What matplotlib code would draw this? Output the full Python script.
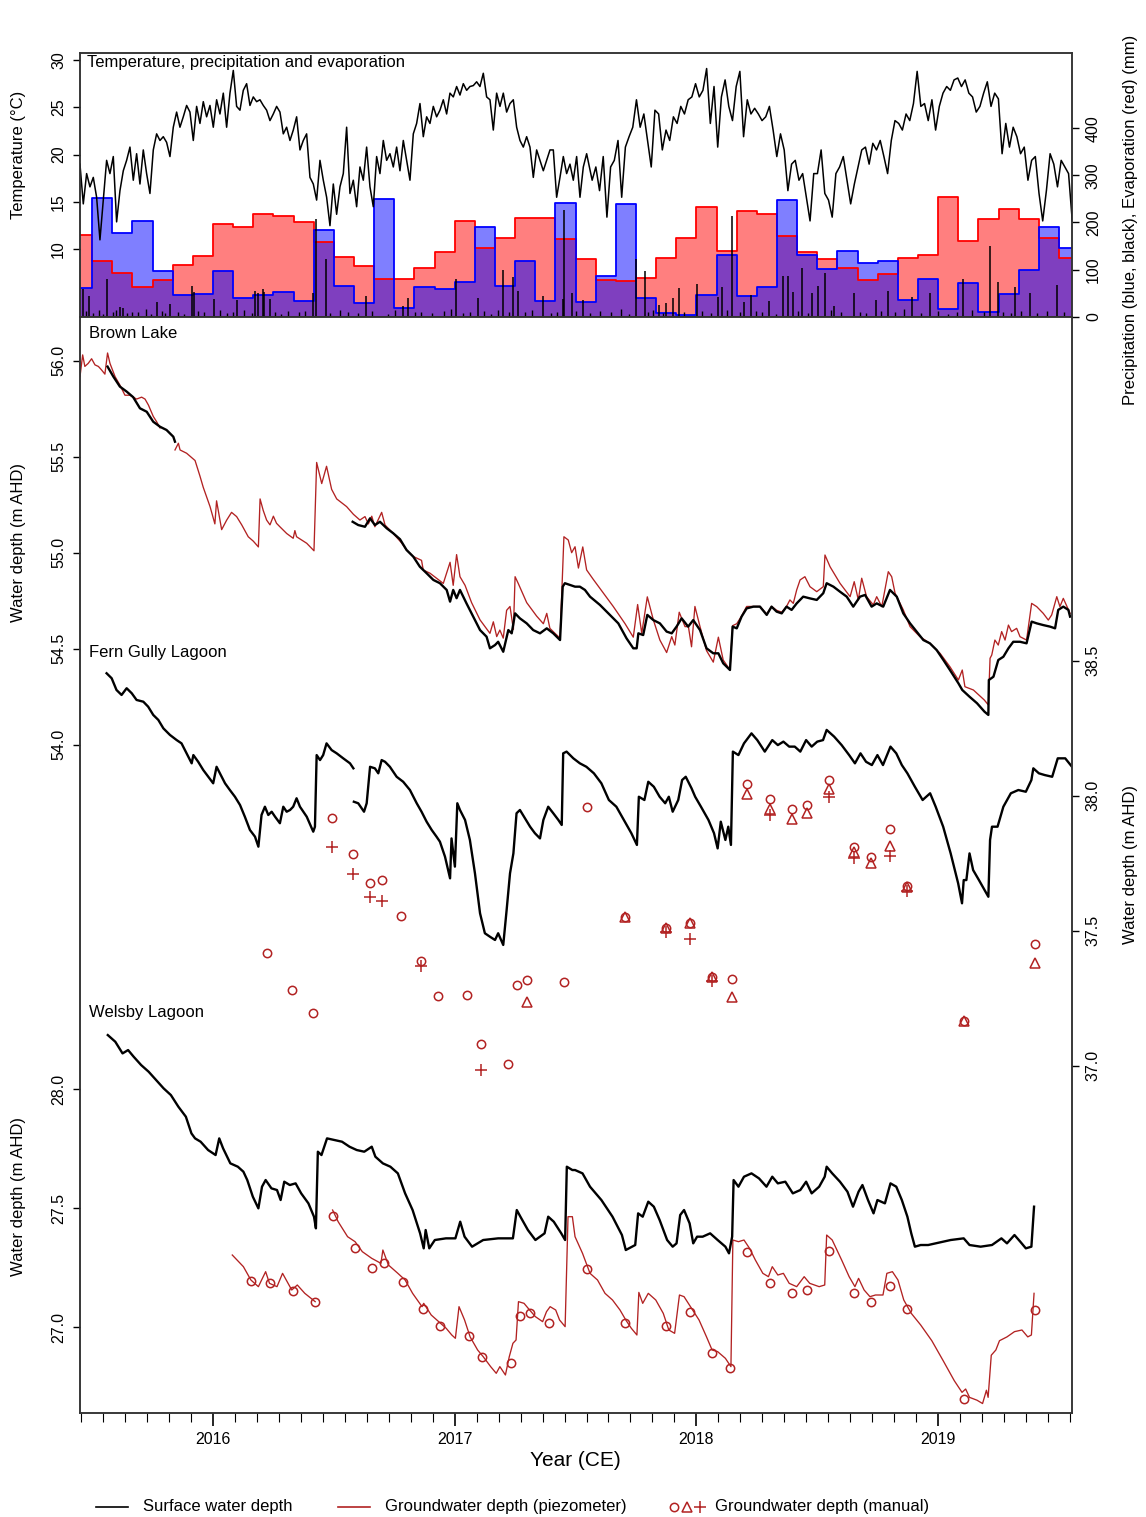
import numpy as np
import pandas as pd
import matplotlib
matplotlib.use('Agg')
import matplotlib.pyplot as plt
from matplotlib.ticker import MultipleLocator, FixedLocator, FormatStrFormatter
from matplotlib.lines import Line2D

plt.rcParams['font.family'] = ['Liberation Sans', 'DejaVu Sans']

RED = '#B22222'
XMIN, XMAX = 2015.45, 2019.554

# ---------------- climate data ----------------
# monthly totals (mm), June 2015 .. July 2019
months = pd.period_range('2015-06', '2019-07', freq='M')
evap_mm = [173, 118, 93, 64, 78, 110, 129,
           196, 191, 217, 214, 200, 158, 126, 108, 80, 81, 103, 138,
           204, 145, 166, 210, 210, 164, 122, 78, 76, 83, 125, 168,
           232, 140, 224, 218, 171, 138, 122, 104, 78, 90, 124, 131,
           253, 161, 207, 228, 207, 166, 124]
precip_mm = [60, 251, 178, 203, 97, 46, 48,
             96, 40, 46, 53, 34, 184, 65, 30, 249, 18, 62, 58,
             74, 191, 66, 119, 33, 241, 32, 87, 239, 40, 7, 4,
             47, 132, 44, 64, 248, 130, 101, 139, 115, 118, 35, 80,
             16, 71, 9, 48, 99, 191, 145]

# daily rainfall events (mm)
rain_year = [2015.464, 2015.489, 2015.560, 2015.615, 2015.629, 2015.770, 2015.822, 2015.912,
             2015.921, 2016.004, 2016.101, 2016.174, 2016.188, 2016.206, 2016.212, 2016.236,
             2016.412, 2016.426, 2016.468, 2016.633, 2016.787, 2016.805, 2017.005, 2017.098,
             2017.201, 2017.243, 2017.263, 2017.367, 2017.447, 2017.452, 2017.484, 2017.531,
             2017.752, 2017.787, 2017.844, 2017.874, 2017.905, 2017.928, 2018.004, 2018.088,
             2018.104, 2018.149, 2018.195, 2018.226, 2018.302, 2018.360, 2018.378, 2018.398,
             2018.435, 2018.478, 2018.504, 2018.531, 2018.569, 2018.653, 2018.745, 2018.791,
             2018.890, 2018.967, 2019.104, 2019.216, 2019.249, 2019.318, 2019.379, 2019.494]
rain_mm = [58, 44, 79, 21, 18, 32, 28, 65,
           53, 37, 35, 55, 50, 58, 53, 37,
           50, 207, 122, 44, 23, 39, 79, 40,
           100, 85, 55, 44, 37, 226, 50, 35,
           122, 97, 25, 30, 40, 60, 69, 42,
           64, 214, 32, 47, 34, 86, 86, 53,
           103, 50, 65, 93, 23, 50, 35, 55,
           42, 50, 81, 151, 73, 64, 50, 67]
small_rain_year = [2015.475, 2015.505, 2015.53, 2015.545, 2015.585, 2015.60, 2015.645, 2015.665, 2015.69,
                   2015.725, 2015.745, 2015.79, 2015.80, 2015.855, 2015.88, 2015.94, 2015.965,
                   2016.03, 2016.06, 2016.085, 2016.13, 2016.16, 2016.255, 2016.28, 2016.31, 2016.355,
                   2016.38, 2016.485, 2016.525, 2016.56, 2016.60, 2016.66, 2016.725, 2016.755, 2016.835,
                   2016.86, 2016.905, 2016.955, 2016.985,
                   2017.035, 2017.065, 2017.12, 2017.15, 2017.18, 2017.225, 2017.29, 2017.32, 2017.40,
                   2017.425, 2017.50, 2017.56, 2017.60, 2017.645, 2017.69, 2017.72, 2017.80, 2017.82,
                   2017.86, 2017.95,
                   2018.025, 2018.06, 2018.125, 2018.18, 2018.245, 2018.27, 2018.33, 2018.42, 2018.46,
                   2018.555, 2018.60, 2018.675, 2018.70, 2018.765, 2018.82, 2018.86, 2018.93,
                   2019.00, 2019.04, 2019.08, 2019.14, 2019.19, 2019.27, 2019.30, 2019.345, 2019.41,
                   2019.45, 2019.52]
small_rain_mm = [12, 8, 15, 6, 10, 14, 7, 11, 9, 16, 5, 13, 8, 10, 6, 12, 9,
                 14, 7, 11, 15, 8, 10, 6, 13, 9, 12, 7, 15, 10, 8, 12, 6, 14, 9, 11, 7, 13, 16,
                 8, 10, 12, 6, 14, 9, 11, 15, 7, 10, 13, 8, 12, 9, 16, 6, 11, 14, 8, 10,
                 12, 7, 15, 9, 13, 10, 6, 12, 8, 14, 11, 9, 7, 13, 10, 16, 8,
                 12, 6, 11, 14, 9, 10, 7, 13, 8, 12, 10]

# daily temperature (deg C), read roughly every 5 days
temp_a_start, temp_a_step = 2015.4498, 0.013791
temp_a = [19.0, 14.8, 18.0, 16.6, 17.6, 15.5, 11.0, 15.2, 19.4, 18.0,
          19.8, 12.9, 16.2, 18.3, 19.4, 20.8, 17.3, 20.1, 16.9, 20.5,
          18.0, 15.9, 20.5, 22.2, 21.5, 21.9, 21.3, 19.8, 22.9, 24.5,
          22.9, 24.0, 25.2, 24.5, 21.5, 25.1, 23.3, 25.6, 24.0, 25.2,
          22.9, 25.8, 24.3, 26.5, 22.9, 26.5, 28.9, 25.1, 24.7, 26.8,
          27.5, 25.2, 26.1, 25.6, 25.8, 25.2, 24.7, 23.6, 24.3, 25.1,
          24.5, 22.2, 22.9, 21.5, 22.6, 24.0, 20.5, 21.5, 22.2, 17.6,
          16.9, 15.2, 19.4, 17.3, 15.5, 12.5, 16.9, 13.7, 16.6, 18.0,
          22.9, 15.9, 17.3, 14.5, 18.7, 17.3, 20.8, 16.6, 14.5, 19.8,
          18.0, 21.5, 19.4, 20.1, 18.7, 20.8, 18.3, 21.5, 19.4, 17.3,
          22.2, 23.3, 25.4, 21.9, 24.0, 23.3, 25.1, 24.0, 24.7, 25.8,
          24.3, 26.5, 26.1, 27.2, 26.3, 27.5, 26.8, 27.2, 27.3, 27.7,
          27.2, 28.6, 26.1, 25.8, 22.6, 26.5, 25.1, 26.5, 24.5, 25.4,
          25.8, 22.9, 21.5, 20.8, 21.9, 20.8, 17.6, 20.5, 19.4, 18.3,
          19.4, 20.5, 20.5, 15.5, 17.6, 19.8, 18.0, 19.0, 17.3, 19.8,
          15.5, 18.7, 20.1]
temp_b_start, temp_b_step = 2017.5688, 0.015279
temp_b = [17.3, 18.7, 16.2, 19.8, 13.4, 18.7, 19.4, 21.5, 15.5, 20.8,
          21.9, 22.9, 25.8, 22.9, 24.3, 21.5, 18.7, 24.7, 24.3, 20.5,
          22.6, 21.5, 24.0, 23.3, 25.1, 24.3, 25.8, 26.1, 27.5, 26.1,
          26.8, 29.1, 23.3, 27.2, 20.8, 26.1, 27.9, 25.1, 23.6, 27.2,
          28.8, 21.9, 25.8, 24.3, 24.9, 24.3, 23.6, 24.0, 25.1, 22.6,
          19.8, 22.2, 20.5, 16.2, 19.0, 19.4, 17.3, 18.0, 15.5, 13.0,
          18.0, 18.0, 20.5, 15.9, 15.2, 13.4, 18.0, 18.7, 19.8, 17.3,
          14.8, 16.9, 18.7, 20.5, 20.8, 19.0, 21.2, 20.5, 21.5, 19.8,
          18.0, 21.5, 23.6, 23.3, 22.6, 24.3, 23.6, 25.4, 28.8, 25.1,
          25.4, 23.6, 25.8, 22.6, 25.1, 26.5, 27.2, 26.8, 27.9, 28.1,
          27.2, 27.9, 26.5, 26.1, 24.5, 25.1, 26.5, 27.7, 25.1, 26.5,
          25.9, 20.1, 23.3, 20.8, 22.9, 21.9, 20.1, 20.8, 17.3, 19.4,
          19.8, 15.9, 13.0, 16.2, 20.1, 19.0, 16.6, 19.4, 18.7, 18.0,
          13.0]

# ---------------- Brown Lake (m AHD) ----------------
brown_sw_year = [2015.564, 2015.588, 2015.615, 2015.643, 2015.670, 2015.698, 2015.726, 2015.753,
                 2015.781, 2015.808, 2015.836, 2015.843, np.nan,
                 2016.578, 2016.601, 2016.629, 2016.650, 2016.670, 2016.691, 2016.719, 2016.746,
                 2016.774, 2016.801, 2016.829, 2016.856, 2016.884, 2016.912, 2016.939, 2016.967,
                 2016.981, 2016.994, 2017.008, 2017.022, 2017.049, 2017.077, 2017.105, 2017.132,
                 2017.146, 2017.167, 2017.180, 2017.201, 2017.222, 2017.236, 2017.250, 2017.270,
                 2017.298, 2017.325, 2017.353, 2017.381, 2017.408, 2017.436, 2017.447, 2017.456,
                 2017.477, 2017.498, 2017.518, 2017.539, 2017.560, 2017.601, 2017.642, 2017.677,
                 2017.711, 2017.739, 2017.753, 2017.760, 2017.780, 2017.797, 2017.822, 2017.849,
                 2017.877, 2017.898, 2017.918, 2017.939, 2017.966, 2017.987, 2018.015, 2018.042,
                 2018.070, 2018.091, 2018.111, 2018.139, 2018.150, 2018.167, 2018.187, 2018.208,
                 2018.236, 2018.263, 2018.291, 2018.311, 2018.332, 2018.353, 2018.373, 2018.394,
                 2018.415, 2018.442, 2018.470, 2018.498, 2018.525, 2018.539, 2018.567, 2018.594,
                 2018.622, 2018.649, 2018.677, 2018.698, 2018.725, 2018.746, 2018.773, 2018.801,
                 2018.829, 2018.856, 2018.884, 2018.911, 2018.939, 2018.966, 2018.994, 2019.022,
                 2019.049, 2019.084, 2019.100, 2019.130, 2019.161, 2019.192, 2019.208, 2019.210,
                 2019.229, 2019.249, 2019.270, 2019.291, 2019.311, 2019.339, 2019.366, 2019.387,
                 2019.408, 2019.435, 2019.463, 2019.484, 2019.497, 2019.518, 2019.539, 2019.546]
brown_sw = [55.969, 55.917, 55.865, 55.839, 55.81, 55.752, 55.734, 55.682,
            55.656, 55.639, 55.604, 55.578, np.nan,
            55.161, 55.144, 55.135, 55.179, 55.144, 55.161, 55.127, 55.101,
            55.07, 55.014, 54.979, 54.927, 54.893, 54.858, 54.841, 54.806,
            54.745, 54.806, 54.763, 54.806, 54.736, 54.667, 54.597, 54.5625,
            54.502, 54.519, 54.536, 54.484, 54.597, 54.58, 54.684, 54.658,
            54.632, 54.597, 54.58, 54.606, 54.58, 54.545, 54.823, 54.841,
            54.832, 54.823, 54.823, 54.806, 54.771, 54.728, 54.676, 54.632,
            54.554, 54.502, 54.502, 54.58, 54.571, 54.676, 54.649, 54.632,
            54.589, 54.58, 54.615, 54.658, 54.615, 54.649, 54.597, 54.502,
            54.476, 54.476, 54.424, 54.389, 54.615, 54.606, 54.667, 54.71,
            54.719, 54.719, 54.676, 54.719, 54.693, 54.684, 54.719, 54.702,
            54.736, 54.771, 54.762, 54.754, 54.789, 54.841, 54.823, 54.797,
            54.771, 54.719, 54.771, 54.78, 54.719, 54.736, 54.719, 54.806,
            54.771, 54.684, 54.632, 54.589, 54.545, 54.528, 54.493, 54.441,
            54.389, 54.32, 54.285, 54.25, 54.216, 54.172, 54.155, 54.337,
            54.354, 54.441, 54.458, 54.502, 54.536, 54.536, 54.528, 54.641,
            54.632, 54.623, 54.615, 54.606, 54.702, 54.719, 54.702, 54.667]

brown_gw_year = [2015.450, 2015.461, 2015.470, 2015.484, 2015.498, 2015.512, 2015.526, 2015.539,
                 2015.553, 2015.564, 2015.574, 2015.595, 2015.615, 2015.636, 2015.657, 2015.684,
                 2015.705, 2015.719, 2015.733, 2015.753, 2015.767, 2015.781, np.nan,
                 2015.843, 2015.857, 2015.864, 2015.891, 2015.926, 2015.946, 2015.960, 2015.988,
                 2016.008, 2016.015, 2016.036, 2016.057, 2016.077, 2016.098, 2016.119, 2016.146,
                 2016.167, 2016.188, 2016.195, 2016.208, 2016.222, 2016.236, 2016.250, 2016.263,
                 2016.277, 2016.305, 2016.332, 2016.339, 2016.346, 2016.388, 2016.418, 2016.429,
                 2016.450, 2016.470, 2016.491, 2016.512, 2016.553, 2016.581, 2016.608, 2016.629,
                 2016.643, 2016.657, 2016.670, 2016.698, 2016.712, 2016.746, 2016.781, 2016.801,
                 2016.829, 2016.863, 2016.870, 2016.898, 2016.932, 2016.953, 2016.981, 2016.994,
                 2017.008, 2017.022, 2017.043, 2017.070, 2017.105, 2017.146, 2017.160, 2017.174,
                 2017.187, 2017.201, 2017.215, 2017.229, 2017.243, 2017.250, 2017.263, 2017.298,
                 2017.339, 2017.367, 2017.381, 2017.394, 2017.415, 2017.436, 2017.452, 2017.470,
                 2017.484, 2017.498, 2017.512, 2017.530, 2017.546, 2017.574, 2017.615, 2017.656,
                 2017.705, 2017.739, 2017.757, 2017.774, 2017.797, 2017.822, 2017.849, 2017.877,
                 2017.898, 2017.911, 2017.929, 2017.953, 2017.967, 2017.980, 2017.994, 2018.015,
                 2018.042, 2018.070, 2018.091, 2018.111, 2018.139, 2018.150, 2018.167, 2018.187,
                 2018.208, 2018.236, 2018.263, 2018.291, 2018.311, 2018.332, 2018.353, 2018.373,
                 2018.387, 2018.401, 2018.415, 2018.429, 2018.449, 2018.470, 2018.498, 2018.525,
                 2018.532, 2018.553, 2018.594, 2018.636, 2018.653, 2018.670, 2018.684, 2018.704,
                 2018.732, 2018.746, 2018.767, 2018.794, 2018.808, 2018.822, 2018.856, 2018.884,
                 2018.925, 2018.966, 2019.008, 2019.049, 2019.084, 2019.100, 2019.111, 2019.146,
                 2019.191, 2019.208, 2019.215, 2019.222, 2019.235, 2019.249, 2019.263, 2019.277,
                 2019.291, 2019.304, 2019.325, 2019.339, 2019.366, 2019.387, 2019.408, 2019.435,
                 2019.456, 2019.470, 2019.491, 2019.504, 2019.518, 2019.546]
brown_gw = [55.917, 56.03, 55.97, 55.986, 56.01, 55.978, 55.97, 55.952,
            55.93, 56.04, 55.986, 55.917, 55.873, 55.82, 55.82, 55.80,
            55.81, 55.80, 55.769, 55.71, 55.682, 55.65, np.nan,
            55.535, 55.57, 55.535, 55.518, 55.48, 55.40, 55.34, 55.24,
            55.15, 55.27, 55.12, 55.17, 55.21, 55.188, 55.145, 55.083,
            55.06, 55.03, 55.28, 55.22, 55.17, 55.145, 55.19, 55.153,
            55.135, 55.10, 55.075, 55.115, 55.083, 55.049, 55.01, 55.47,
            55.36, 55.45, 55.33, 55.28, 55.24, 55.20, 55.17, 55.188,
            55.15, 55.19, 55.135, 55.21, 55.144, 55.10, 55.05, 55.014,
            54.98, 54.96, 54.91, 54.893, 54.86, 54.84, 54.95, 54.83,
            54.99, 54.875, 54.83, 54.74, 54.65, 54.58, 54.64, 54.563,
            54.597, 54.555, 54.70, 54.72, 54.60, 54.875, 54.84, 54.74,
            54.67, 54.63, 54.684, 54.606, 54.58, 54.555, 55.083, 55.066,
            55.0, 55.031, 54.92, 55.03, 54.91, 54.86, 54.79, 54.72,
            54.63, 54.56, 54.73, 54.58, 54.77, 54.65, 54.545, 54.48,
            54.563, 54.519, 54.69, 54.615, 54.615, 54.51, 54.72, 54.615,
            54.49, 54.43, 54.56, 54.441, 54.39, 54.62, 54.63, 54.67,
            54.72, 54.72, 54.72, 54.68, 54.72, 54.70, 54.69, 54.72,
            54.754, 54.736, 54.806, 54.858, 54.875, 54.823, 54.797, 54.823,
            54.988, 54.927, 54.841, 54.771, 54.849, 54.754, 54.867, 54.771,
            54.728, 54.771, 54.719, 54.901, 54.875, 54.789, 54.702, 54.615,
            54.5625, 54.528, 54.476, 54.406, 54.337, 54.389, 54.302, 54.285,
            54.233, 54.207, 54.45, 54.467, 54.545, 54.519, 54.589, 54.545,
            54.623, 54.589, 54.606, 54.5625, 54.545, 54.736, 54.719, 54.684,
            54.649, 54.676, 54.771, 54.719, 54.762, 54.684]

# ---------------- Fern Gully Lagoon ----------------
fern_sw_year = [2015.560, 2015.581, 2015.601, 2015.622, 2015.643, 2015.664, 2015.684, 2015.712,
                2015.732, 2015.753, 2015.774, 2015.795, 2015.822, 2015.850, 2015.870, 2015.891,
                2015.912, 2015.919, 2015.939, 2015.960, 2015.981, 2016.001, 2016.015, 2016.029,
                2016.050, 2016.070, 2016.091, 2016.112, 2016.132, 2016.153, 2016.174, 2016.188,
                2016.201, 2016.215, 2016.229, 2016.243, 2016.257, 2016.277, 2016.291, 2016.305,
                2016.319, 2016.332, 2016.346, 2016.360, 2016.388, 2016.415, 2016.422, 2016.429,
                2016.443, 2016.456, 2016.470, 2016.491, 2016.512, 2016.539, 2016.567, 2016.581,
                np.nan,
                2016.583, 2016.601, 2016.625, 2016.636, 2016.650, 2016.670, 2016.684, 2016.698,
                2016.712, 2016.732, 2016.760, 2016.787, 2016.815, 2016.843, 2016.863, 2016.884,
                2016.905, 2016.925, 2016.939, 2016.960, 2016.981, 2016.987, 2017.001, 2017.011,
                2017.022, 2017.043, 2017.063, 2017.084, 2017.105, 2017.125, 2017.146, 2017.167,
                2017.180, 2017.201, 2017.215, 2017.229, 2017.243, 2017.256, 2017.270, 2017.291,
                2017.312, 2017.332, 2017.353, 2017.367, 2017.387, 2017.408, 2017.429, 2017.443,
                2017.449, 2017.463, 2017.491, 2017.518, 2017.545, 2017.576, 2017.607, 2017.638,
                2017.669, 2017.700, 2017.731, 2017.754, 2017.762, 2017.785, 2017.801, 2017.824,
                2017.848, 2017.871, 2017.886, 2017.902, 2017.925, 2017.941, 2017.956, 2017.980,
                2017.995, 2018.019, 2018.050, 2018.073, 2018.088, 2018.101, 2018.120, 2018.132,
                2018.143, 2018.151, 2018.174, 2018.197, 2018.228, 2018.252, 2018.283, 2018.314,
                2018.337, 2018.360, 2018.384, 2018.407, 2018.430, 2018.454, 2018.477, 2018.500,
                2018.524, 2018.539, 2018.570, 2018.601, 2018.632, 2018.656, 2018.679, 2018.702,
                2018.726, 2018.749, 2018.772, 2018.803, 2018.827, 2018.850, 2018.873, 2018.904,
                2018.936, 2018.967, 2018.990, 2019.021, 2019.052, 2019.083, 2019.099, 2019.106,
                2019.117, 2019.130, 2019.145, 2019.169, 2019.192, 2019.208, 2019.215, 2019.223,
                2019.246, 2019.270, 2019.301, 2019.332, 2019.363, 2019.386, 2019.394, 2019.417,
                2019.441, 2019.472, 2019.495, 2019.526, 2019.554]
fern_sw = [54.372, 54.346, 54.285, 54.259, 54.294, 54.268, 54.233, 54.224,
           54.198, 54.155, 54.129, 54.085, 54.051, 54.024, 54.007, 53.955,
           53.903, 53.946, 53.911, 53.868, 53.833, 53.799, 53.885, 53.851,
           53.799, 53.764, 53.729, 53.686, 53.625, 53.556, 53.521, 53.469,
           53.634, 53.677, 53.634, 53.651, 53.625, 53.591, 53.677, 53.651,
           53.66, 53.677, 53.721, 53.677, 53.625, 53.547, 53.573, 53.946,
           53.92, 53.946, 54.007, 53.972, 53.955, 53.929, 53.903, 53.877,
           np.nan,
           53.703, 53.695, 53.651, 53.695, 53.885, 53.877, 53.851, 53.92,
           53.911, 53.885, 53.833, 53.807, 53.764, 53.695, 53.651, 53.599,
           53.556, 53.521, 53.495, 53.417, 53.304, 53.512, 53.365, 53.695,
           53.66, 53.608, 53.504, 53.33, 53.122, 53.018, 53.0, 52.983,
           53.018, 52.957, 53.139, 53.33, 53.434, 53.643, 53.66, 53.617,
           53.573, 53.539, 53.512, 53.608, 53.677, 53.643, 53.608, 53.582,
           53.955, 53.964, 53.929, 53.903, 53.885, 53.851, 53.799, 53.712,
           53.677, 53.608, 53.539, 53.478, 53.729, 53.712, 53.807, 53.781,
           53.729, 53.695, 53.729, 53.651, 53.712, 53.816, 53.833, 53.773,
           53.729, 53.677, 53.608, 53.539, 53.46, 53.599, 53.504, 53.573,
           53.478, 53.964, 53.946, 54.007, 54.059, 54.024, 53.964, 54.024,
           53.998, 54.016, 53.99, 53.99, 53.964, 54.024, 53.99, 54.016,
           54.024, 54.077, 54.042, 53.998, 53.946, 53.903, 53.955, 53.911,
           53.894, 53.946, 53.894, 53.99, 53.955, 53.894, 53.851, 53.781,
           53.712, 53.747, 53.677, 53.573, 53.434, 53.278, 53.174, 53.295,
           53.295, 53.434, 53.347, 53.295, 53.243, 53.208, 53.504, 53.573,
           53.573, 53.677, 53.747, 53.764, 53.755, 53.816, 53.877, 53.851,
           53.842, 53.833, 53.929, 53.929, 53.885]

# manual groundwater readings (m AHD), three bores
fern_o_year = [2016.225, 2016.326, 2016.415, 2016.491, 2016.578, 2016.650, 2016.698, 2016.778,
               2016.859, 2016.932, 2017.051, 2017.108, 2017.221, 2017.259, 2017.300, 2017.451,
               2017.547, 2017.703, 2017.875, 2017.975, 2018.065, 2018.146, 2018.210, 2018.306,
               2018.395, 2018.458, 2018.550, 2018.651, 2018.722, 2018.800, 2018.873, 2019.106,
               2019.402]
fern_o = [37.419, 37.28, 37.194, 37.916, 37.784, 37.678, 37.688, 37.554,
          37.389, 37.258, 37.261, 37.079, 37.005, 37.299, 37.317, 37.309,
          37.957, 37.552, 37.509, 37.53, 37.327, 37.32, 38.043, 37.987,
          37.951, 37.967, 38.058, 37.811, 37.772, 37.877, 37.667, 37.166,
          37.451]
fern_t_year = [2017.300, 2017.703, 2017.875, 2017.975, 2018.065, 2018.146, 2018.210, 2018.306,
               2018.395, 2018.458, 2018.550, 2018.651, 2018.722, 2018.800, 2018.873, 2019.106,
               2019.402]
fern_t = [37.237, 37.552, 37.509, 37.53, 37.327, 37.256, 38.006, 37.95,
          37.913, 37.935, 38.024, 37.793, 37.752, 37.814, 37.663, 37.166,
          37.382]
fern_p_year = [2016.491, 2016.578, 2016.650, 2016.698, 2016.859, 2017.108, 2017.875, 2017.975,
               2018.065, 2018.306, 2018.550, 2018.651, 2018.800, 2018.873]
fern_p = [37.809, 37.709, 37.626, 37.61, 37.369, 36.984, 37.496, 37.469,
          37.315, 37.929, 37.994, 37.768, 37.777, 37.648]

# ---------------- Welsby Lagoon ----------------
welsby_sw_year = [2015.565, 2015.596, 2015.626, 2015.649, 2015.672, 2015.703, 2015.734, 2015.765,
                  2015.796, 2015.826, 2015.857, 2015.888, 2015.911, 2015.926, 2015.949, 2015.980,
                  2016.011, 2016.026, 2016.042, 2016.072, 2016.103, 2016.126, 2016.142, 2016.165,
                  2016.188, 2016.203, 2016.218, 2016.242, 2016.265, 2016.280, 2016.295, 2016.318,
                  2016.342, 2016.365, 2016.395, 2016.418, 2016.426, 2016.434, 2016.449, 2016.472,
                  2016.503, 2016.534, 2016.565, 2016.595, 2016.626, 2016.657, 2016.672, 2016.703,
                  2016.734, 2016.765, 2016.795, 2016.826, 2016.857, 2016.872, 2016.880, 2016.895,
                  2016.918, 2016.964, 2017.003, 2017.023, 2017.041, 2017.072, 2017.118, 2017.180,
                  2017.241, 2017.257, 2017.272, 2017.303, 2017.334, 2017.372, 2017.387, 2017.410,
                  2017.441, 2017.457, 2017.464, 2017.487, 2017.498, 2017.529, 2017.560, 2017.607,
                  2017.653, 2017.692, 2017.708, 2017.747, 2017.759, 2017.778, 2017.801, 2017.824,
                  2017.848, 2017.879, 2017.902, 2017.918, 2017.933, 2017.949, 2017.972, 2017.987,
                  2018.003, 2018.026, 2018.057, 2018.088, 2018.120, 2018.135, 2018.148, 2018.154,
                  2018.174, 2018.197, 2018.228, 2018.259, 2018.290, 2018.314, 2018.337, 2018.368,
                  2018.399, 2018.430, 2018.454, 2018.477, 2018.508, 2018.531, 2018.539, 2018.562,
                  2018.594, 2018.625, 2018.648, 2018.671, 2018.687, 2018.710, 2018.733, 2018.749,
                  2018.780, 2018.803, 2018.827, 2018.850, 2018.873, 2018.889, 2018.904, 2018.928,
                  2018.959, 2018.990, 2019.052, 2019.106, 2019.130, 2019.176, 2019.223, 2019.262,
                  2019.285, 2019.316, 2019.340, 2019.363, 2019.386, 2019.397]
welsby_sw = [28.228, 28.2, 28.151, 28.165, 28.137, 28.102, 28.074, 28.039,
             28.004, 27.976, 27.927, 27.885, 27.815, 27.794, 27.78, 27.745,
             27.724, 27.794, 27.752, 27.689, 27.675, 27.654, 27.619, 27.549,
             27.5, 27.591, 27.619, 27.584, 27.577, 27.535, 27.612, 27.598,
             27.605, 27.563, 27.521, 27.465, 27.416, 27.738, 27.724, 27.794,
             27.787, 27.78, 27.759, 27.745, 27.738, 27.759, 27.717, 27.689,
             27.675, 27.647, 27.563, 27.493, 27.395, 27.332, 27.409, 27.332,
             27.367, 27.374, 27.374, 27.444, 27.381, 27.339, 27.367, 27.374,
             27.374, 27.493, 27.465, 27.409, 27.367, 27.395, 27.465, 27.444,
             27.395, 27.367, 27.675, 27.661, 27.661, 27.647, 27.591, 27.535,
             27.465, 27.388, 27.325, 27.346, 27.479, 27.465, 27.528, 27.507,
             27.451, 27.367, 27.339, 27.353, 27.472, 27.493, 27.437, 27.353,
             27.381, 27.381, 27.395, 27.367, 27.339, 27.311, 27.381, 27.619,
             27.591, 27.633, 27.647, 27.626, 27.591, 27.633, 27.605, 27.612,
             27.563, 27.577, 27.612, 27.563, 27.591, 27.633, 27.675, 27.647,
             27.612, 27.57, 27.507, 27.57, 27.598, 27.535, 27.479, 27.535,
             27.521, 27.605, 27.591, 27.535, 27.465, 27.395, 27.339, 27.346,
             27.346, 27.353, 27.367, 27.374, 27.346, 27.339, 27.346, 27.374,
             27.353, 27.388, 27.36, 27.332, 27.339, 27.507]

welsby_gw_year = [2016.080, 2016.126, 2016.157, 2016.188, 2016.218, 2016.234, 2016.265, 2016.288,
                  2016.326, 2016.349, 2016.380, 2016.423, np.nan,
                  2016.495, 2016.518, 2016.557, 2016.588, 2016.618, 2016.657, 2016.695, 2016.703,
                  2016.726, 2016.765, 2016.795, 2016.826, 2016.865, 2016.872, 2016.903, 2016.934,
                  2016.965, 2016.988, 2017.003, 2017.018, 2017.041, 2017.064, 2017.095, 2017.118,
                  2017.149, 2017.172, 2017.187, 2017.210, 2017.226, 2017.241, 2017.254, 2017.264,
                  2017.287, 2017.310, 2017.334, 2017.364, 2017.380, 2017.395, 2017.418, 2017.434,
                  2017.457, 2017.469, 2017.487, 2017.498, 2017.529, 2017.560, 2017.591, 2017.622,
                  2017.653, 2017.684, 2017.708, 2017.731, 2017.754, 2017.762, 2017.778, 2017.801,
                  2017.832, 2017.863, 2017.886, 2017.910, 2017.930, 2017.949, 2017.980, 2018.011,
                  2018.042, 2018.065, 2018.088, 2018.120, 2018.143, 2018.151, 2018.174, 2018.197,
                  2018.220, 2018.244, 2018.275, 2018.298, 2018.314, 2018.337, 2018.360, 2018.384,
                  2018.415, 2018.446, 2018.469, 2018.508, 2018.531, 2018.539, 2018.562, 2018.601,
                  2018.632, 2018.656, 2018.671, 2018.694, 2018.718, 2018.741, 2018.772, 2018.788,
                  2018.811, 2018.834, 2018.858, 2018.889, 2018.928, 2018.974, 2019.021, 2019.067,
                  2019.099, 2019.114, 2019.130, 2019.161, 2019.184, 2019.200, 2019.207, 2019.220,
                  2019.239, 2019.254, 2019.285, 2019.316, 2019.347, 2019.371, 2019.386, 2019.397]
welsby_gw = [27.304, 27.255, 27.199, 27.171, 27.234, 27.185, 27.171, 27.227,
             27.157, 27.178, 27.143, 27.108, np.nan,
             27.493, 27.444, 27.381, 27.36, 27.318, 27.29, 27.269, 27.325,
             27.262, 27.227, 27.199, 27.143, 27.087, 27.101, 27.052, 27.024,
             26.996, 26.968, 26.954, 27.087, 27.031, 26.96, 26.905, 26.877,
             26.835, 26.807, 26.835, 26.8, 26.877, 26.933, 26.947, 27.108,
             27.101, 27.073, 27.045, 27.024, 27.066, 27.087, 27.073, 27.031,
             27.003, 27.465, 27.465, 27.381, 27.311, 27.227, 27.199, 27.143,
             27.115, 27.073, 27.031, 26.996, 26.968, 27.147, 27.101, 27.143,
             27.115, 27.059, 26.989, 26.975, 27.136, 27.129, 27.08, 27.031,
             26.96, 26.905, 26.898, 26.87, 26.835, 27.367, 27.36, 27.367,
             27.332, 27.283, 27.227, 27.213, 27.255, 27.22, 27.227, 27.185,
             27.171, 27.213, 27.185, 27.171, 27.178, 27.388, 27.367, 27.283,
             27.213, 27.171, 27.206, 27.157, 27.129, 27.136, 27.136, 27.227,
             27.234, 27.199, 27.115, 27.059, 27.01, 26.944, 26.86, 26.776,
             26.727, 26.741, 26.706, 26.694, 26.68, 26.736, 26.706, 26.883,
             26.905, 26.944, 26.96, 26.982, 26.989, 26.96, 26.968, 27.143]

welsby_o_year = [2016.157, 2016.237, 2016.331, 2016.422, 2016.498, 2016.588, 2016.657, 2016.708,
                 2016.788, 2016.869, 2016.941, 2017.061, 2017.115, 2017.234, 2017.272, 2017.310,
                 2017.390, 2017.548, 2017.703, 2017.876, 2017.975, 2018.065, 2018.138, 2018.210,
                 2018.306, 2018.395, 2018.458, 2018.550, 2018.651, 2018.722, 2018.800, 2018.870,
                 2019.106, 2019.399]
welsby_o = [27.195, 27.185, 27.154, 27.106, 27.469, 27.332, 27.248, 27.269,
            27.189, 27.076, 27.007, 26.963, 26.874, 26.849, 27.049, 27.059,
            27.017, 27.244, 27.017, 27.007, 27.066, 26.891, 26.828, 27.318,
            27.187, 27.146, 27.156, 27.322, 27.143, 27.108, 27.174, 27.077,
            26.699, 27.073]

# ---------------- figure ----------------
W, H = 1146, 1517
fig = plt.figure(figsize=(W / 100, H / 100), dpi=100)


def box(x0, y0, x1, y1):
    return [x0 / W, 1 - y1 / H, (x1 - x0) / W, (y1 - y0) / H]


def fx(px):
    return px / W


def fy(py):
    return 1 - py / H


TICK = 11.5
SW_LW = 1.7


def style_y(ax, ticks, fmt=None):
    ax.yaxis.set_major_locator(FixedLocator(ticks))
    if fmt:
        ax.yaxis.set_major_formatter(FormatStrFormatter(fmt))
    ax.tick_params(axis='y', direction='out', length=5, width=1, labelsize=TICK,
                   labelrotation=90, pad=5)
    for lab in ax.get_yticklabels():
        lab.set_va('center')


# top panel: precipitation / evaporation (right axis) + temperature (left axis)
ax_p = fig.add_axes(box(80, 53.3, 1072, 316.7))
edges = [XMIN] + [m.start_time.year + (m.start_time.month - 1) / 12 for m in months[1:]] + [XMAX]
ev = evap_mm + [evap_mm[-1]]
pr = precip_mm + [precip_mm[-1]]
ax_p.fill_between(edges, 0, ev, step='post', color='red', alpha=0.5, lw=0)
ax_p.step(edges, ev, where='post', color='red', lw=1.3)
ax_p.fill_between(edges, 0, pr, step='post', color='blue', alpha=0.5, lw=0)
ax_p.step(edges, pr, where='post', color='blue', lw=1.3)
ax_p.vlines(small_rain_year, 0, small_rain_mm, color='black', lw=1.0)
ax_p.vlines(rain_year, 0, rain_mm, color='black', lw=1.1)
ax_p.set_xlim(XMIN, XMAX)
ax_p.set_ylim(0, 559)
ax_p.set_xticks([])

ax_t = ax_p.twinx()
t_x = np.concatenate([temp_a_start + temp_a_step * np.arange(len(temp_a)),
                      temp_b_start + temp_b_step * np.arange(len(temp_b))])
t_y = np.array(temp_a + temp_b)
ax_t.plot(t_x, t_y, color='black', lw=1.1)
ax_t.set_xlim(XMIN, XMAX)
ax_t.set_ylim(2.88, 30.71)
ax_t.yaxis.tick_left()
ax_p.yaxis.tick_right()
style_y(ax_t, [10, 15, 20, 25, 30])
style_y(ax_p, [0, 100, 200, 300, 400])

# lower panel: Brown Lake + Fern Gully (left), Welsby (left, lower), Fern groundwater (right)
rect_low = box(80, 316.7, 1072, 1413.3)
ax_b = fig.add_axes(rect_low)
ax_b.plot(brown_gw_year, brown_gw, color=RED, lw=0.95)
ax_b.plot(brown_sw_year, brown_sw, color='black', lw=SW_LW)
ax_b.plot(fern_sw_year, fern_sw, color='black', lw=SW_LW)
ax_b.set_xlim(XMIN, XMAX)
ax_b.set_ylim(50.518, 56.229)
ax_b.xaxis.set_major_locator(FixedLocator([2016, 2017, 2018, 2019]))
ax_b.xaxis.set_major_formatter(FormatStrFormatter('%d'))
ax_b.xaxis.set_minor_locator(MultipleLocator(1 / 11))
ax_b.tick_params(axis='x', which='major', direction='out', length=9.5, width=1.2,
                 labelsize=TICK, pad=4)
ax_b.tick_params(axis='x', which='minor', direction='out', length=6.5, width=0.8)

ax_w = fig.add_axes(rect_low, facecolor='none')
ax_w.plot(welsby_gw_year, welsby_gw, color=RED, lw=0.95)
ax_w.plot(welsby_sw_year, welsby_sw, color='black', lw=SW_LW)
ax_w.plot(welsby_o_year, welsby_o, ls='none', marker='o', ms=6, mfc='none', mec=RED, mew=1.1)
ax_w.set_xlim(XMIN, XMAX)
ax_w.set_ylim(26.639, 31.246)
for s in ax_w.spines.values():
    s.set_visible(False)
ax_w.set_xticks([])
style_y(ax_w, [27.0, 27.5, 28.0], '%.1f')

ax_g = ax_b.twinx()
ax_g.plot(fern_o_year, fern_o, ls='none', marker='o', ms=6, mfc='none', mec=RED, mew=1.1)
ax_g.plot(fern_t_year, fern_t, ls='none', marker='^', ms=6.5, mfc='none', mec=RED, mew=1.1)
ax_g.plot(fern_p_year, fern_p, ls='none', marker='+', ms=8, mec=RED, mew=1.1)
ax_g.set_xlim(XMIN, XMAX)
ax_g.set_ylim(35.713, 39.774)
ax_b.yaxis.tick_left()
style_y(ax_b, [54.0, 54.5, 55.0, 55.5, 56.0], '%.1f')
style_y(ax_g, [37.0, 37.5, 38.0, 38.5], '%.1f')

for a in (ax_p, ax_t, ax_b, ax_g):
    for s in a.spines.values():
        s.set_color('#333333')
        s.set_linewidth(1.1)

# panel titles and axis labels
fig.text(fx(87), fy(62), 'Temperature, precipitation and evaporation', fontsize=12, va='center')
fig.text(fx(89), fy(333), 'Brown Lake', fontsize=12, va='center')
fig.text(fx(89), fy(653), 'Fern Gully Lagoon', fontsize=12, va='center')
fig.text(fx(89), fy(1012), 'Welsby Lagoon', fontsize=12, va='center')

fig.text(fx(19), fy(155), 'Temperature (\u00b0C)', rotation=90, fontsize=12, ha='center', va='center')
fig.text(fx(19), fy(543), 'Water depth (m AHD)', rotation=90, fontsize=12, ha='center', va='center')
fig.text(fx(19), fy(1197), 'Water depth (m AHD)', rotation=90, fontsize=12, ha='center', va='center')
fig.text(fx(1130), fy(220), 'Precipitation (blue, black), Evaporation (red) (mm)', rotation=90,
         fontsize=12, ha='center', va='center')
fig.text(fx(1130), fy(865), 'Water depth (m AHD)', rotation=90, fontsize=12, ha='center', va='center')
fig.text(fx(575), fy(1460), 'Year (CE)', fontsize=15, ha='center', va='center')

# legend
ly = fy(1507)
fig.add_artist(Line2D([fx(96), fx(128)], [ly, ly], color='black', lw=1.2))
fig.text(fx(143), ly, 'Surface water depth', fontsize=12, va='center')
fig.add_artist(Line2D([fx(338), fx(370)], [ly, ly], color=RED, lw=1.2))
fig.text(fx(385), ly, 'Groundwater depth (piezometer)', fontsize=12, va='center')
fig.add_artist(Line2D([fx(674)], [ly], marker='o', ms=6, mfc='none', mec=RED, mew=1.1))
fig.add_artist(Line2D([fx(687)], [ly], marker='^', ms=6.5, mfc='none', mec=RED, mew=1.1))
fig.add_artist(Line2D([fx(700)], [ly], marker='+', ms=8, mec=RED, mew=1.1))
fig.text(fx(715), ly, 'Groundwater depth (manual)', fontsize=12, va='center')

fig.savefig('out.png', dpi=100)
